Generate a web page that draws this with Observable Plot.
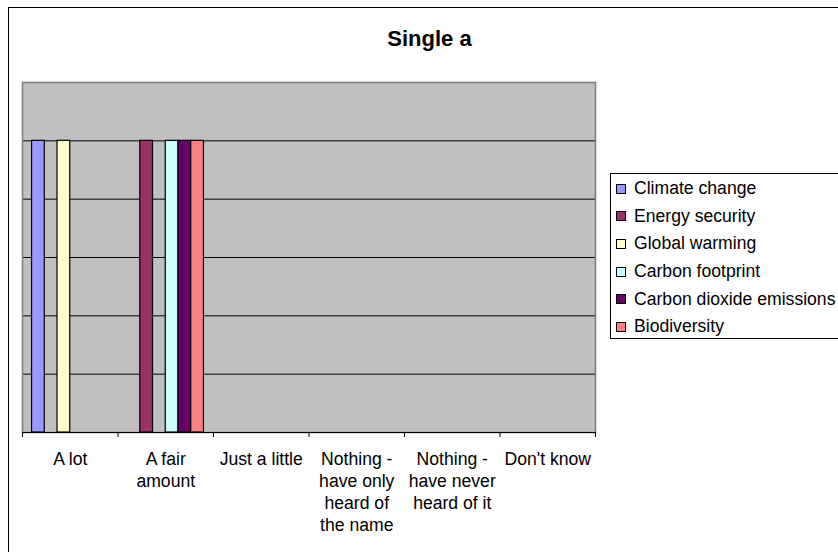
<!DOCTYPE html>
<html>
<head>
<meta charset="utf-8">
<script src="https://cdn.jsdelivr.net/npm/d3@7"></script>
<script src="https://cdn.jsdelivr.net/npm/@observablehq/plot@0.6"></script>
<style>
  html, body { margin: 0; padding: 0; background: #fff; overflow: hidden; }
  #wrap { position: relative; width: 838px; height: 552px; overflow: hidden; font-family: "Liberation Sans", Arial, sans-serif; }
  #outer { position: absolute; left: 7.5px; top: 6.5px; width: 900px; height: 600px; border: 1.4px solid #000; }
  #title { position: absolute; left: 429.5px; top: 26px; transform: translateX(-50%); font-size: 22px; font-weight: bold; white-space: nowrap; color: #000; }
  #chart { position: absolute; left: 0; top: 0; }
  #legend { position: absolute; left: 610px; top: 173px; width: 260px; height: 166px; border: 1px solid #000; box-sizing: border-box; padding-top: 1px; }
  .item { height: 27.6px; display: flex; align-items: center; font-size: 17.6px; color: #000; white-space: nowrap; }
  .sw { width: 8px; height: 8px; border: 1px solid #000; margin-left: 5px; margin-right: 8px; flex: none; }
</style>
</head>
<body>
<div id="wrap">
  <div id="outer"></div>
  <div id="title">Single a</div>
  <div id="chart"></div>
  <div id="legend"></div>
</div>
<script>
// ---- data ----
const categories = ["A lot", "A fair amount", "Just a little", "Nothing - have only heard of the name", "Nothing - have never heard of it", "Don't know"];
const categoryLabels = ["A lot", "A fair\namount", "Just a little", "Nothing -\nhave only\nheard of\nthe name", "Nothing -\nhave never\nheard of it", "Don't know"];
const series = ["Climate change", "Energy security", "Global warming", "Carbon footprint", "Carbon dioxide emissions", "Biodiversity"];
const seriesColors = ["#9999FF", "#993366", "#FFFFCC", "#CCFFFF", "#660066", "#FF8080"];
const climateChange = [1, 0, 0, 0, 0, 0];
const energySecurity = [0, 1, 0, 0, 0, 0];
const globalWarming = [1, 0, 0, 0, 0, 0];
const carbonFootprint = [0, 1, 0, 0, 0, 0];
const carbonDioxideEmissions = [0, 1, 0, 0, 0, 0];
const biodiversity = [0, 1, 0, 0, 0, 0];
const yTicks = [0.2, 0.4, 0.6, 0.8, 1.0];
const yMax = 1.2;

const seriesValues = [climateChange, energySecurity, globalWarming, carbonFootprint, carbonDioxideEmissions, biodiversity];

// Excel-style clustered columns: gap width 150%
const gapWidth = 1.5;
const slot = 1 / (series.length + gapWidth);

const rows = series.flatMap((s, si) =>
  seriesValues[si].map((v, ci) => ({series: s, si, ci, category: categories[ci], value: v}))
).filter(d => d.value > 0);

const labelRows = categoryLabels.map((label, ci) => ({label, ci}));
const boundaries = d3.range(categories.length + 1);

const font = '"Liberation Sans", Arial, sans-serif';

const chart = Plot.plot({
  width: 838,
  height: 552,
  marginLeft: 22,
  marginRight: 243,
  marginTop: 82,
  marginBottom: 120,
  style: {background: "transparent", fontFamily: font, fontSize: "17.6px", color: "#000", overflow: "visible"},
  x: {domain: [0, categories.length], axis: null},
  y: {domain: [0, yMax], axis: null},
  color: {domain: series, range: seriesColors},
  marks: [
    Plot.frame({fill: "#C0C0C0", stroke: null}),
    Plot.ruleY(yTicks, {stroke: "#000", strokeWidth: 1}),
    Plot.frame({stroke: "#808080", strokeWidth: 1.6}),
    Plot.rectY(rows, {
      x1: d => d.ci + (gapWidth / 2 + d.si) * slot,
      x2: d => d.ci + (gapWidth / 2 + d.si + 1) * slot,
      y1: 0,
      y2: "value",
      fill: "series",
      stroke: "#000",
      strokeWidth: 1.2
    }),
    Plot.ruleY([0], {stroke: "#000", strokeWidth: 1.2}),
    Plot.ruleX(boundaries, {x: d => d, y1: 0, y2: 0, insetBottom: -5, stroke: "#000", strokeWidth: 1}),
    Plot.text(labelRows, {
      x: d => d.ci + 0.5,
      y: 0,
      text: "label",
      lineAnchor: "top",
      lineHeight: 1.25,
      dy: 17,
      fill: "#000",
      fontSize: 17.6
    })
  ]
});
document.getElementById("chart").appendChild(chart);

// legend built from the same color scale
const color = chart.scale("color");
const legend = document.getElementById("legend");
series.forEach(s => {
  const item = document.createElement("div");
  item.className = "item";
  const sw = document.createElement("span");
  sw.className = "sw";
  sw.style.background = color.range[color.domain.indexOf(s)];
  const t = document.createElement("span");
  t.textContent = s;
  item.appendChild(sw);
  item.appendChild(t);
  legend.appendChild(item);
});
</script>
</body>
</html>
